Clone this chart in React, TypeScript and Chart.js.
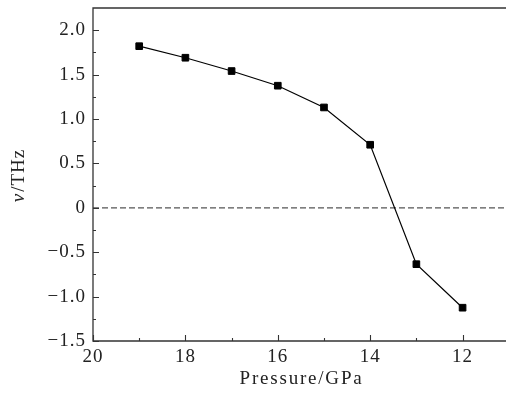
import React, { useEffect, useRef } from "react";
import { Chart, registerables } from "chart.js";

Chart.register(...registerables);

const pressure = [19, 18, 17, 16, 15, 14, 13, 12];
const frequency = [1.82, 1.69, 1.54, 1.375, 1.13, 0.71, -0.635, -1.125];
const xMajorTicks = [20, 18, 16, 14, 12];
const xMinorTicks = [19, 17, 15, 13];
const yMajorTicks = [-1.5, -1.0, -0.5, 0, 0.5, 1.0, 1.5, 2.0];
const yMinorTicks = [-1.25, -0.75, -0.25, 0.25, 0.75, 1.25, 1.75];
const zeroLine = [20, 11.06];
const xTitle = "Pressure/GPa";
const yTitleItalic = "ν";
const yTitleRest = "/THz";

const FONT = "'Liberation Serif', 'Times New Roman', serif";

const fmtY = (v: number) => {
  if (Math.abs(v) < 1e-9) return "0";
  return (v < 0 ? "\u2212" : "") + Math.abs(v).toFixed(1);
};

const noPad = (s: any) => {
  s.paddingTop = 0;
  s.paddingBottom = 0;
  s.paddingLeft = 0;
  s.paddingRight = 0;
};

const decor = {
  id: "decor",
  beforeDraw(chart: any) {
    (chart.ctx as any).letterSpacing = "1px";
  },
  afterDraw(chart: any) {
    const ctx = chart.ctx;
    const ca = chart.chartArea;
    const xs = chart.scales.x;
    const ys = chart.scales.y;
    ctx.save();
    ctx.strokeStyle = "#333";
    ctx.lineWidth = 1.3;
    ctx.setLineDash([]);
    ctx.beginPath();
    ctx.moveTo(chart.width + 2, ca.top);
    ctx.lineTo(ca.left, ca.top);
    ctx.lineTo(ca.left, ca.bottom);
    ctx.lineTo(chart.width + 2, ca.bottom);
    ctx.stroke();
    ctx.lineWidth = 1.1;
    ctx.beginPath();
    xMajorTicks.forEach((v) => {
      const px = Math.round(xs.getPixelForValue(v)) + 0.5;
      ctx.moveTo(px, ca.bottom);
      ctx.lineTo(px, ca.bottom - 6);
    });
    xMinorTicks.forEach((v) => {
      const px = Math.round(xs.getPixelForValue(v)) + 0.5;
      ctx.moveTo(px, ca.bottom);
      ctx.lineTo(px, ca.bottom - 3);
    });
    yMajorTicks.forEach((v) => {
      const py = Math.round(ys.getPixelForValue(v)) + 0.5;
      ctx.moveTo(ca.left, py);
      ctx.lineTo(ca.left + 6, py);
    });
    yMinorTicks.forEach((v) => {
      const py = Math.round(ys.getPixelForValue(v)) + 0.5;
      ctx.moveTo(ca.left, py);
      ctx.lineTo(ca.left + 3, py);
    });
    ctx.stroke();

    // axis titles
    ctx.fillStyle = "#222";
    (ctx as any).letterSpacing = "1.8px";
    ctx.font = `19px ${FONT}`;
    ctx.textAlign = "center";
    ctx.textBaseline = "alphabetic";
    ctx.fillText(xTitle, (ca.left + ca.right) / 2 + 2, 384);

    ctx.translate(24, 176);
    ctx.rotate(-Math.PI / 2);
    (ctx as any).letterSpacing = "1px";
    ctx.font = `italic 19px ${FONT}`;
    const w1 = ctx.measureText(yTitleItalic).width;
    ctx.font = `19px ${FONT}`;
    const w2 = ctx.measureText(yTitleRest).width;
    const start = -(w1 + w2) / 2;
    ctx.textAlign = "left";
    ctx.font = `italic 19px ${FONT}`;
    ctx.fillText(yTitleItalic, start, 0);
    ctx.font = `19px ${FONT}`;
    ctx.fillText(yTitleRest, start + w1 + 1, 0);
    ctx.restore();
  },
};

export default function App() {
  const ref = useRef<HTMLCanvasElement | null>(null);
  useEffect(() => {
    if (!ref.current) return;
    const chart = new Chart(ref.current, {
      type: "scatter",
      data: {
        datasets: [
          {
            data: pressure.map((p, i) => ({ x: p, y: frequency[i] })),
            showLine: true,
            borderColor: "#000",
            borderWidth: 1.2,
            pointStyle: "rect",
            pointRadius: 4.7,
            pointBorderWidth: 1,
            pointBackgroundColor: "#000",
            pointBorderColor: "#000",
          },
          {
            data: zeroLine.map((p) => ({ x: p, y: 0 })),
            showLine: true,
            borderColor: "#555",
            borderWidth: 1.3,
            borderDash: [6, 3],
            pointRadius: 0,
          },
        ],
      },
      options: {
        animation: false,
        responsive: false,
        layout: { autoPadding: false, padding: { top: 8, right: 0, left: 0, bottom: 0 } },
        plugins: {
          legend: { display: false },
          tooltip: { enabled: false },
        },
        scales: {
          x: {
            type: "linear",
            reverse: true,
            min: 11.06,
            max: 20,
            grid: { display: false, drawTicks: false },
            border: { display: false },
            afterFit: (s: any) => {
              s.height = 57;
              noPad(s);
            },
            afterBuildTicks: (s: any) => {
              s.ticks = xMajorTicks.map((v) => ({ value: v }));
            },
            ticks: {
              autoSkip: false,
              maxRotation: 0,
              padding: 5,
              color: "#222",
              font: { family: FONT, size: 19 },
              callback: (v: any) => String(v),
            },
          },
          y: {
            type: "linear",
            min: -1.5,
            max: 2.25,
            grid: { display: false, drawTicks: false },
            border: { display: false },
            afterFit: (s: any) => {
              s.width = 93;
              noPad(s);
            },
            afterBuildTicks: (s: any) => {
              s.ticks = yMajorTicks.map((v) => ({ value: v }));
            },
            ticks: {
              autoSkip: false,
              padding: 7,
              color: "#222",
              font: { family: FONT, size: 19 },
              callback: (v: any) => fmtY(Number(v)),
            },
          },
        },
      },
      plugins: [decor],
    });
    return () => chart.destroy();
  }, []);
  return (
    <canvas
      ref={ref}
      width={506}
      height={398}
      style={{ position: "fixed", left: 0, top: 0, display: "block" }}
    />
  );
}
